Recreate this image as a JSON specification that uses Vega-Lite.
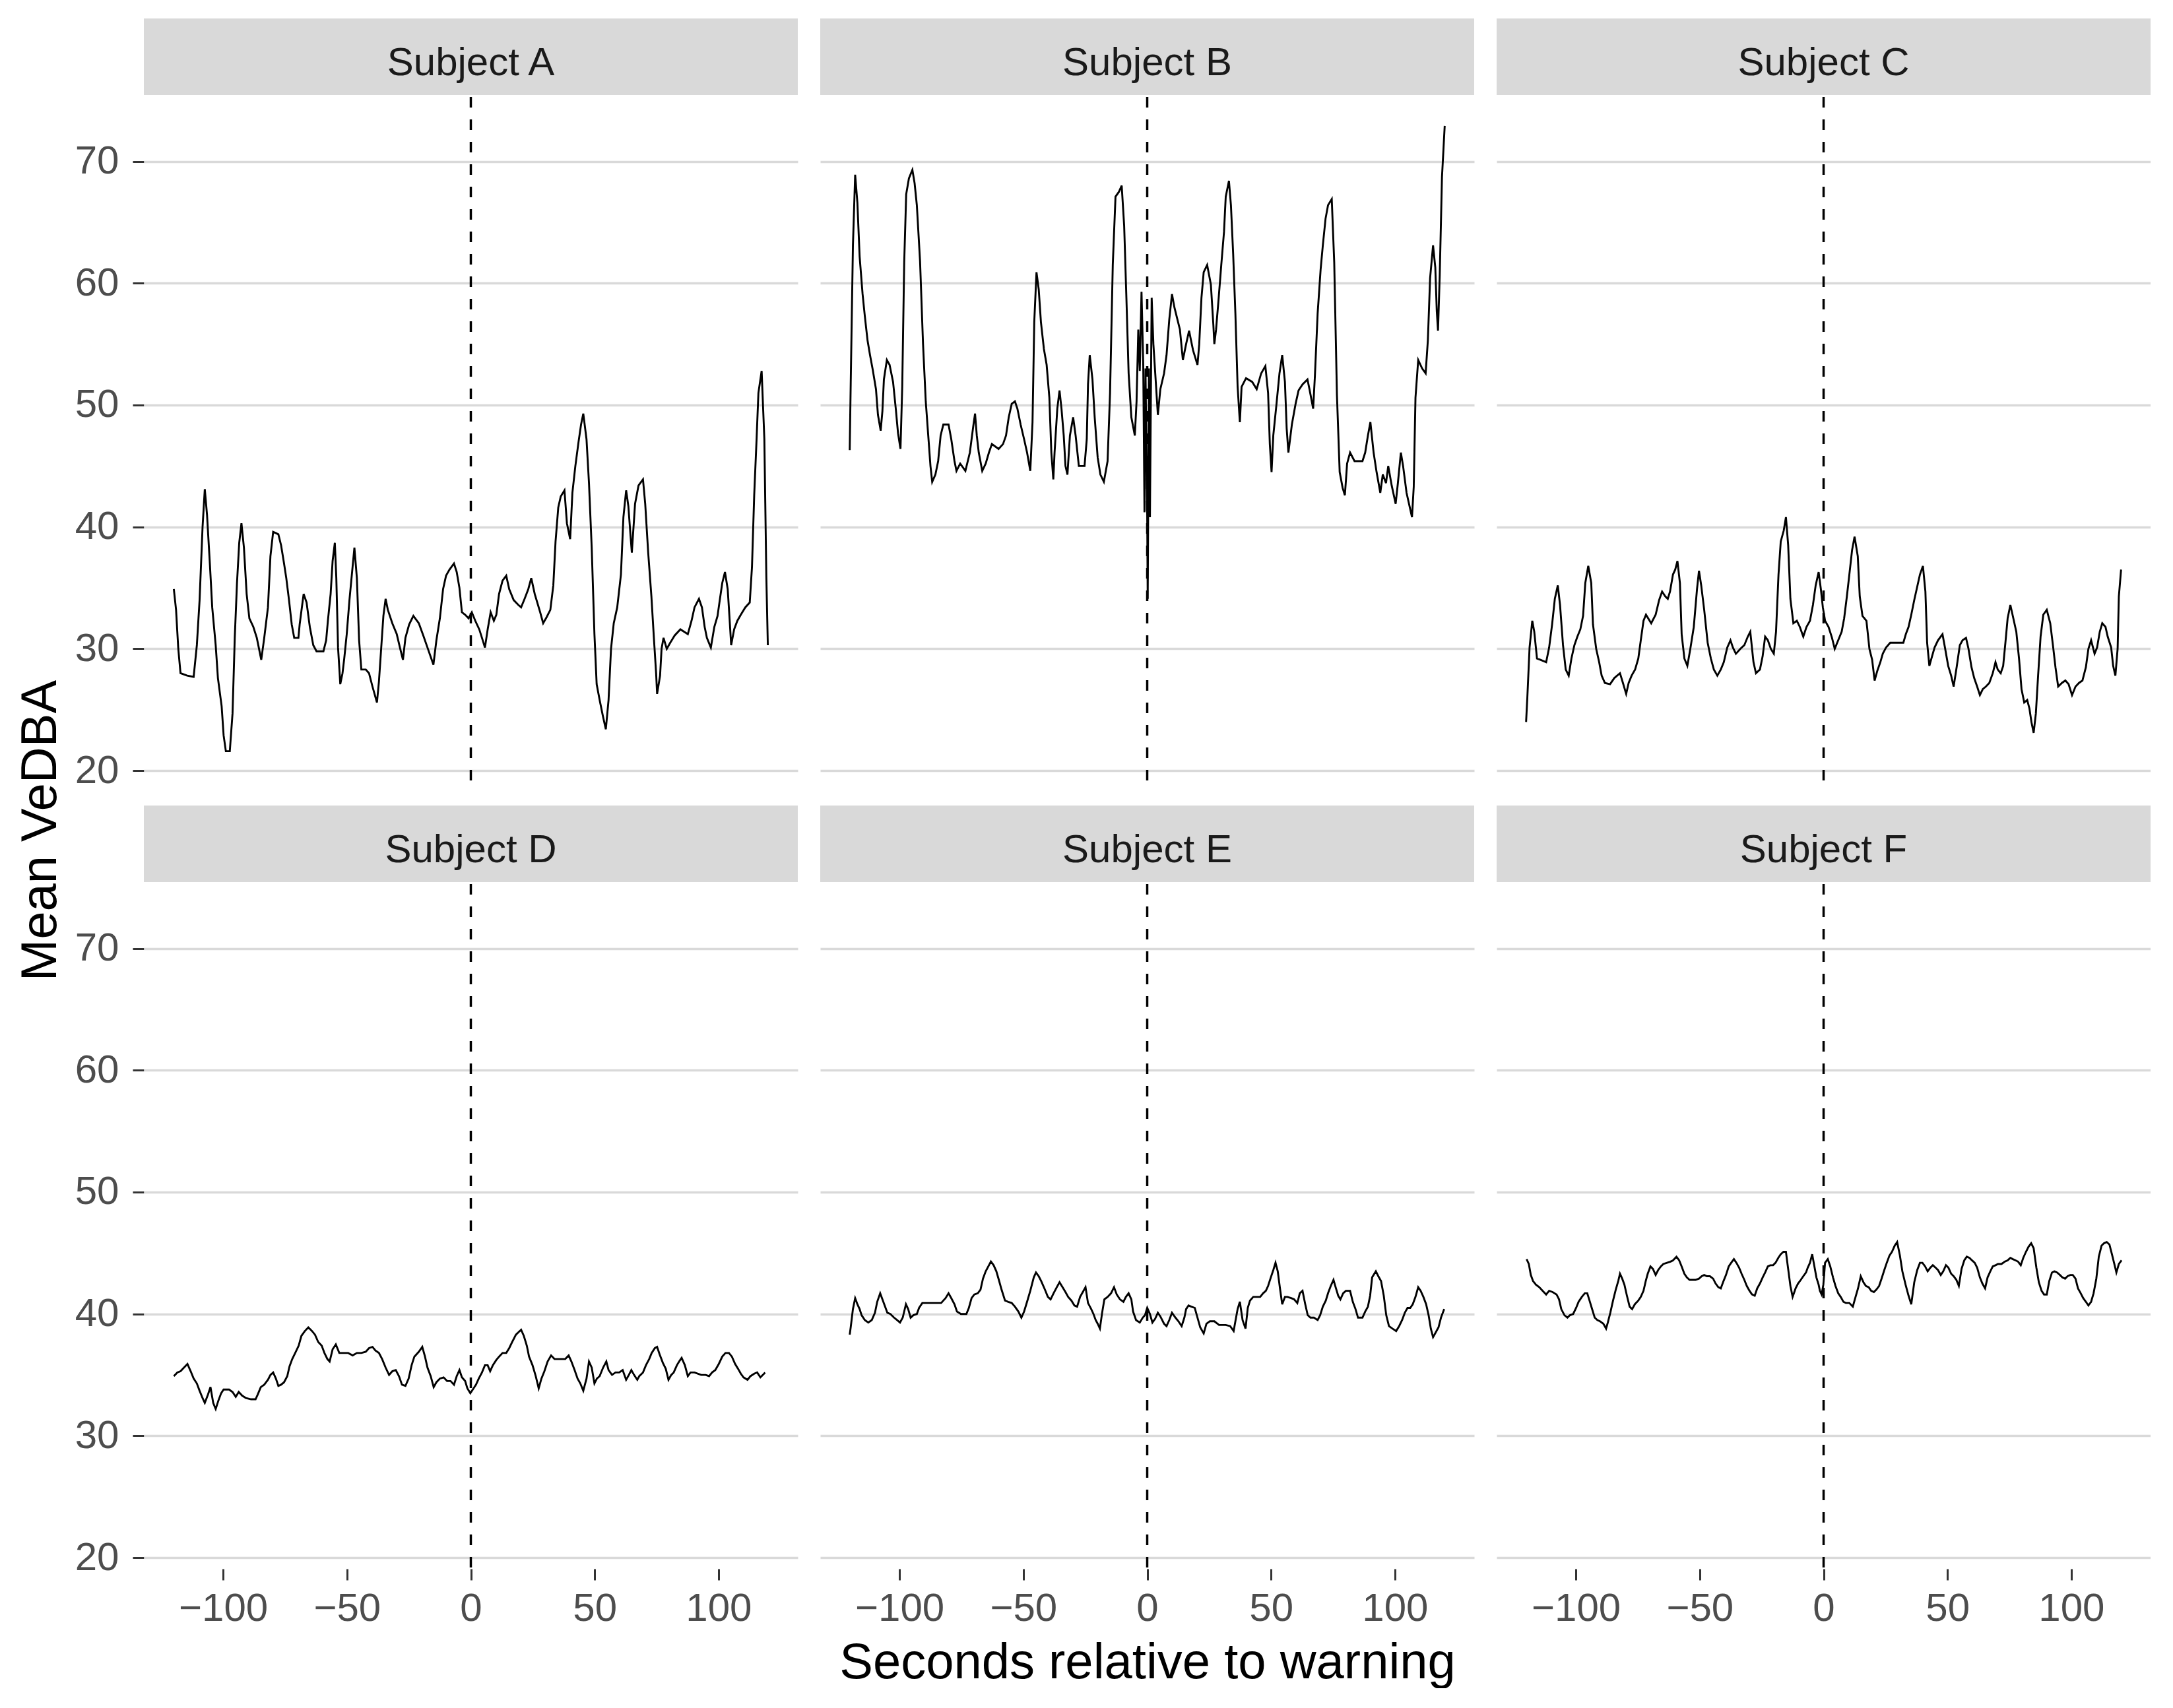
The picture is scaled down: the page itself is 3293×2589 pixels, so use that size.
{
  "$schema": "https://vega.github.io/schema/vega-lite/v6.json",
  "background": "white",
  "padding": {"left": 24, "top": 27, "right": 0, "bottom": 0},
  "title": {
    "text": "Mean VeDBA",
    "orient": "left",
    "anchor": "middle",
    "font": "Liberation Sans",
    "fontSize": 76,
    "fontWeight": "normal",
    "color": "black",
    "offset": 12,
    "dx": 34
  },
  "data": {
    "values": [
      {"s":"Subject A","t":-119.9,"v":34.9},{"s":"Subject A","t":-119.0,"v":33.2},{"s":"Subject A","t":-118.1,"v":30.0},{"s":"Subject A","t":-117.2,"v":28.0},{"s":"Subject A","t":-114.5,"v":27.8},{"s":"Subject A","t":-111.9,"v":27.7},{"s":"Subject A","t":-110.6,"v":30.3},{"s":"Subject A","t":-109.5,"v":34.0},{"s":"Subject A","t":-108.3,"v":40.0},{"s":"Subject A","t":-107.4,"v":43.1},{"s":"Subject A","t":-106.5,"v":41.0},{"s":"Subject A","t":-105.3,"v":36.8},{"s":"Subject A","t":-104.4,"v":33.4},{"s":"Subject A","t":-103.0,"v":30.3},{"s":"Subject A","t":-102.1,"v":27.6},{"s":"Subject A","t":-100.6,"v":25.3},{"s":"Subject A","t":-99.8,"v":22.9},{"s":"Subject A","t":-98.9,"v":21.6},{"s":"Subject A","t":-97.3,"v":21.6},{"s":"Subject A","t":-96.2,"v":24.7},{"s":"Subject A","t":-95.3,"v":30.9},{"s":"Subject A","t":-94.4,"v":35.4},{"s":"Subject A","t":-93.5,"v":38.7},{"s":"Subject A","t":-92.6,"v":40.3},{"s":"Subject A","t":-91.6,"v":38.3},{"s":"Subject A","t":-90.5,"v":34.5},{"s":"Subject A","t":-89.4,"v":32.5},{"s":"Subject A","t":-87.8,"v":31.8},{"s":"Subject A","t":-86.4,"v":30.9},{"s":"Subject A","t":-84.6,"v":29.1},{"s":"Subject A","t":-83.4,"v":30.9},{"s":"Subject A","t":-81.9,"v":33.4},{"s":"Subject A","t":-80.9,"v":37.6},{"s":"Subject A","t":-79.8,"v":39.6},{"s":"Subject A","t":-77.7,"v":39.4},{"s":"Subject A","t":-76.6,"v":38.5},{"s":"Subject A","t":-75.4,"v":37.0},{"s":"Subject A","t":-74.5,"v":35.8},{"s":"Subject A","t":-73.4,"v":34.0},{"s":"Subject A","t":-72.3,"v":32.0},{"s":"Subject A","t":-71.3,"v":30.9},{"s":"Subject A","t":-69.6,"v":30.9},{"s":"Subject A","t":-69.1,"v":32.0},{"s":"Subject A","t":-67.5,"v":34.5},{"s":"Subject A","t":-66.3,"v":33.8},{"s":"Subject A","t":-65.0,"v":31.8},{"s":"Subject A","t":-63.6,"v":30.3},{"s":"Subject A","t":-62.3,"v":29.8},{"s":"Subject A","t":-59.5,"v":29.8},{"s":"Subject A","t":-58.4,"v":30.7},{"s":"Subject A","t":-57.7,"v":32.3},{"s":"Subject A","t":-56.6,"v":34.5},{"s":"Subject A","t":-55.8,"v":37.2},{"s":"Subject A","t":-54.9,"v":38.7},{"s":"Subject A","t":-54.3,"v":35.8},{"s":"Subject A","t":-53.6,"v":30.1},{"s":"Subject A","t":-52.7,"v":27.1},{"s":"Subject A","t":-51.8,"v":28.0},{"s":"Subject A","t":-51.1,"v":29.2},{"s":"Subject A","t":-50.1,"v":31.2},{"s":"Subject A","t":-49.0,"v":34.0},{"s":"Subject A","t":-47.7,"v":36.8},{"s":"Subject A","t":-47.0,"v":38.3},{"s":"Subject A","t":-46.0,"v":35.8},{"s":"Subject A","t":-45.1,"v":30.7},{"s":"Subject A","t":-44.2,"v":28.3},{"s":"Subject A","t":-42.4,"v":28.3},{"s":"Subject A","t":-41.1,"v":28.0},{"s":"Subject A","t":-39.7,"v":26.9},{"s":"Subject A","t":-37.9,"v":25.6},{"s":"Subject A","t":-37.1,"v":27.3},{"s":"Subject A","t":-36.2,"v":30.0},{"s":"Subject A","t":-35.3,"v":32.7},{"s":"Subject A","t":-34.4,"v":34.1},{"s":"Subject A","t":-33.5,"v":33.2},{"s":"Subject A","t":-31.7,"v":32.1},{"s":"Subject A","t":-29.9,"v":31.2},{"s":"Subject A","t":-28.5,"v":30.0},{"s":"Subject A","t":-27.4,"v":29.1},{"s":"Subject A","t":-26.4,"v":30.9},{"s":"Subject A","t":-24.9,"v":32.0},{"s":"Subject A","t":-23.2,"v":32.7},{"s":"Subject A","t":-21.0,"v":32.1},{"s":"Subject A","t":-19.2,"v":31.1},{"s":"Subject A","t":-17.5,"v":30.1},{"s":"Subject A","t":-15.1,"v":28.7},{"s":"Subject A","t":-13.9,"v":30.7},{"s":"Subject A","t":-12.5,"v":32.5},{"s":"Subject A","t":-11.2,"v":34.9},{"s":"Subject A","t":-10.0,"v":36.0},{"s":"Subject A","t":-8.6,"v":36.5},{"s":"Subject A","t":-6.8,"v":37.0},{"s":"Subject A","t":-5.7,"v":36.3},{"s":"Subject A","t":-4.6,"v":35.0},{"s":"Subject A","t":-3.6,"v":33.0},{"s":"Subject A","t":-2.3,"v":32.8},{"s":"Subject A","t":-0.9,"v":32.5},{"s":"Subject A","t":0.4,"v":33.0},{"s":"Subject A","t":1.8,"v":32.3},{"s":"Subject A","t":3.4,"v":31.6},{"s":"Subject A","t":4.5,"v":30.9},{"s":"Subject A","t":5.7,"v":30.1},{"s":"Subject A","t":6.8,"v":31.6},{"s":"Subject A","t":8.0,"v":33.0},{"s":"Subject A","t":9.3,"v":32.3},{"s":"Subject A","t":10.3,"v":32.8},{"s":"Subject A","t":11.4,"v":34.5},{"s":"Subject A","t":12.8,"v":35.6},{"s":"Subject A","t":14.3,"v":36.0},{"s":"Subject A","t":15.5,"v":34.9},{"s":"Subject A","t":17.3,"v":34.0},{"s":"Subject A","t":19.2,"v":33.6},{"s":"Subject A","t":20.3,"v":33.4},{"s":"Subject A","t":21.7,"v":34.1},{"s":"Subject A","t":23.2,"v":34.9},{"s":"Subject A","t":24.4,"v":35.8},{"s":"Subject A","t":25.8,"v":34.5},{"s":"Subject A","t":28.0,"v":33.0},{"s":"Subject A","t":29.2,"v":32.1},{"s":"Subject A","t":30.6,"v":32.6},{"s":"Subject A","t":32.1,"v":33.2},{"s":"Subject A","t":33.3,"v":35.2},{"s":"Subject A","t":34.2,"v":38.8},{"s":"Subject A","t":35.3,"v":41.6},{"s":"Subject A","t":36.3,"v":42.5},{"s":"Subject A","t":37.8,"v":43.0},{"s":"Subject A","t":38.8,"v":40.3},{"s":"Subject A","t":40.1,"v":39.0},{"s":"Subject A","t":41.0,"v":42.8},{"s":"Subject A","t":42.2,"v":45.0},{"s":"Subject A","t":43.5,"v":47.0},{"s":"Subject A","t":44.5,"v":48.4},{"s":"Subject A","t":45.4,"v":49.3},{"s":"Subject A","t":46.7,"v":47.2},{"s":"Subject A","t":47.7,"v":43.6},{"s":"Subject A","t":48.8,"v":38.3},{"s":"Subject A","t":49.9,"v":31.2},{"s":"Subject A","t":50.8,"v":27.1},{"s":"Subject A","t":52.0,"v":25.8},{"s":"Subject A","t":53.3,"v":24.5},{"s":"Subject A","t":54.5,"v":23.4},{"s":"Subject A","t":55.6,"v":25.8},{"s":"Subject A","t":56.6,"v":30.0},{"s":"Subject A","t":57.7,"v":32.1},{"s":"Subject A","t":59.1,"v":33.4},{"s":"Subject A","t":60.6,"v":36.1},{"s":"Subject A","t":61.6,"v":40.8},{"s":"Subject A","t":62.7,"v":43.0},{"s":"Subject A","t":63.6,"v":41.7},{"s":"Subject A","t":64.5,"v":39.2},{"s":"Subject A","t":65.0,"v":37.9},{"s":"Subject A","t":66.3,"v":41.9},{"s":"Subject A","t":67.7,"v":43.4},{"s":"Subject A","t":69.5,"v":43.9},{"s":"Subject A","t":70.4,"v":41.9},{"s":"Subject A","t":71.6,"v":37.9},{"s":"Subject A","t":72.9,"v":34.3},{"s":"Subject A","t":73.9,"v":30.9},{"s":"Subject A","t":74.8,"v":28.0},{"s":"Subject A","t":75.2,"v":26.3},{"s":"Subject A","t":76.4,"v":27.8},{"s":"Subject A","t":77.0,"v":30.0},{"s":"Subject A","t":77.8,"v":30.9},{"s":"Subject A","t":79.1,"v":30.0},{"s":"Subject A","t":80.5,"v":30.5},{"s":"Subject A","t":82.3,"v":31.1},{"s":"Subject A","t":84.6,"v":31.6},{"s":"Subject A","t":87.6,"v":31.2},{"s":"Subject A","t":89.1,"v":32.3},{"s":"Subject A","t":90.3,"v":33.4},{"s":"Subject A","t":92.1,"v":34.1},{"s":"Subject A","t":93.3,"v":33.4},{"s":"Subject A","t":94.4,"v":31.8},{"s":"Subject A","t":95.3,"v":30.9},{"s":"Subject A","t":96.9,"v":30.1},{"s":"Subject A","t":98.3,"v":31.8},{"s":"Subject A","t":99.6,"v":32.7},{"s":"Subject A","t":100.5,"v":34.0},{"s":"Subject A","t":101.5,"v":35.4},{"s":"Subject A","t":102.6,"v":36.3},{"s":"Subject A","t":103.7,"v":34.9},{"s":"Subject A","t":104.6,"v":32.0},{"s":"Subject A","t":105.1,"v":30.3},{"s":"Subject A","t":106.3,"v":31.6},{"s":"Subject A","t":107.6,"v":32.3},{"s":"Subject A","t":109.0,"v":32.8},{"s":"Subject A","t":110.8,"v":33.4},{"s":"Subject A","t":112.6,"v":33.8},{"s":"Subject A","t":113.5,"v":36.7},{"s":"Subject A","t":114.4,"v":42.6},{"s":"Subject A","t":115.4,"v":47.4},{"s":"Subject A","t":116.1,"v":51.0},{"s":"Subject A","t":117.4,"v":52.8},{"s":"Subject A","t":118.5,"v":47.2},{"s":"Subject A","t":119.3,"v":35.9},{"s":"Subject A","t":119.9,"v":30.3},
      {"s":"Subject B","t":-120.1,"v":46.3},{"s":"Subject B","t":-119.7,"v":51.7},{"s":"Subject B","t":-118.8,"v":63.1},{"s":"Subject B","t":-117.9,"v":68.9},{"s":"Subject B","t":-117.0,"v":66.6},{"s":"Subject B","t":-116.1,"v":62.2},{"s":"Subject B","t":-114.9,"v":59.1},{"s":"Subject B","t":-114.0,"v":57.3},{"s":"Subject B","t":-112.9,"v":55.3},{"s":"Subject B","t":-111.9,"v":54.1},{"s":"Subject B","t":-110.8,"v":52.9},{"s":"Subject B","t":-109.5,"v":51.3},{"s":"Subject B","t":-108.7,"v":49.2},{"s":"Subject B","t":-107.6,"v":47.9},{"s":"Subject B","t":-106.9,"v":49.5},{"s":"Subject B","t":-106.3,"v":52.1},{"s":"Subject B","t":-105.1,"v":53.7},{"s":"Subject B","t":-104.0,"v":53.3},{"s":"Subject B","t":-102.6,"v":51.9},{"s":"Subject B","t":-101.5,"v":49.7},{"s":"Subject B","t":-100.6,"v":47.7},{"s":"Subject B","t":-99.6,"v":46.4},{"s":"Subject B","t":-98.9,"v":51.5},{"s":"Subject B","t":-98.1,"v":61.7},{"s":"Subject B","t":-97.3,"v":67.3},{"s":"Subject B","t":-96.2,"v":68.6},{"s":"Subject B","t":-94.8,"v":69.3},{"s":"Subject B","t":-93.9,"v":68.2},{"s":"Subject B","t":-93.0,"v":66.4},{"s":"Subject B","t":-91.7,"v":61.8},{"s":"Subject B","t":-90.5,"v":55.0},{"s":"Subject B","t":-89.4,"v":50.3},{"s":"Subject B","t":-88.4,"v":47.5},{"s":"Subject B","t":-87.5,"v":45.0},{"s":"Subject B","t":-86.8,"v":43.7},{"s":"Subject B","t":-85.5,"v":44.3},{"s":"Subject B","t":-84.4,"v":45.4},{"s":"Subject B","t":-83.4,"v":47.5},{"s":"Subject B","t":-82.3,"v":48.4},{"s":"Subject B","t":-80.2,"v":48.4},{"s":"Subject B","t":-79.1,"v":47.2},{"s":"Subject B","t":-77.8,"v":45.4},{"s":"Subject B","t":-77.0,"v":44.6},{"s":"Subject B","t":-75.5,"v":45.2},{"s":"Subject B","t":-73.4,"v":44.6},{"s":"Subject B","t":-71.6,"v":46.1},{"s":"Subject B","t":-70.2,"v":48.3},{"s":"Subject B","t":-69.5,"v":49.3},{"s":"Subject B","t":-68.8,"v":47.5},{"s":"Subject B","t":-68.0,"v":46.1},{"s":"Subject B","t":-66.6,"v":44.6},{"s":"Subject B","t":-65.2,"v":45.2},{"s":"Subject B","t":-63.9,"v":46.1},{"s":"Subject B","t":-62.7,"v":46.8},{"s":"Subject B","t":-60.0,"v":46.4},{"s":"Subject B","t":-58.2,"v":46.8},{"s":"Subject B","t":-57.0,"v":47.5},{"s":"Subject B","t":-55.9,"v":49.0},{"s":"Subject B","t":-54.7,"v":50.1},{"s":"Subject B","t":-53.4,"v":50.3},{"s":"Subject B","t":-52.4,"v":49.7},{"s":"Subject B","t":-51.1,"v":48.4},{"s":"Subject B","t":-49.7,"v":47.2},{"s":"Subject B","t":-48.5,"v":46.1},{"s":"Subject B","t":-47.2,"v":44.6},{"s":"Subject B","t":-46.3,"v":48.6},{"s":"Subject B","t":-45.6,"v":56.8},{"s":"Subject B","t":-44.7,"v":60.9},{"s":"Subject B","t":-43.8,"v":59.5},{"s":"Subject B","t":-42.9,"v":56.8},{"s":"Subject B","t":-41.7,"v":54.6},{"s":"Subject B","t":-40.6,"v":53.3},{"s":"Subject B","t":-39.5,"v":50.6},{"s":"Subject B","t":-38.7,"v":46.1},{"s":"Subject B","t":-37.9,"v":43.9},{"s":"Subject B","t":-37.4,"v":46.1},{"s":"Subject B","t":-36.3,"v":49.7},{"s":"Subject B","t":-35.4,"v":51.2},{"s":"Subject B","t":-34.6,"v":49.7},{"s":"Subject B","t":-33.7,"v":47.5},{"s":"Subject B","t":-33.0,"v":45.0},{"s":"Subject B","t":-32.2,"v":44.3},{"s":"Subject B","t":-31.2,"v":47.5},{"s":"Subject B","t":-29.9,"v":49.0},{"s":"Subject B","t":-28.9,"v":47.5},{"s":"Subject B","t":-27.6,"v":45.0},{"s":"Subject B","t":-25.3,"v":45.0},{"s":"Subject B","t":-24.4,"v":47.2},{"s":"Subject B","t":-23.9,"v":51.7},{"s":"Subject B","t":-23.2,"v":54.1},{"s":"Subject B","t":-22.1,"v":52.1},{"s":"Subject B","t":-21.2,"v":49.0},{"s":"Subject B","t":-20.0,"v":45.7},{"s":"Subject B","t":-18.9,"v":44.3},{"s":"Subject B","t":-17.5,"v":43.7},{"s":"Subject B","t":-16.0,"v":45.4},{"s":"Subject B","t":-15.0,"v":51.0},{"s":"Subject B","t":-13.9,"v":61.5},{"s":"Subject B","t":-12.8,"v":67.1},{"s":"Subject B","t":-11.4,"v":67.5},{"s":"Subject B","t":-10.3,"v":68.0},{"s":"Subject B","t":-9.3,"v":64.7},{"s":"Subject B","t":-8.4,"v":58.8},{"s":"Subject B","t":-7.5,"v":52.6},{"s":"Subject B","t":-6.4,"v":49.0},{"s":"Subject B","t":-5.0,"v":47.5},{"s":"Subject B","t":-4.3,"v":50.3},{"s":"Subject B","t":-3.6,"v":56.2},{"s":"Subject B","t":-3.0,"v":52.8},{"s":"Subject B","t":-2.3,"v":59.3},{"s":"Subject B","t":-1.6,"v":53.3},{"s":"Subject B","t":-1.1,"v":41.2},{"s":"Subject B","t":-0.7,"v":53.0},{"s":"Subject B","t":0.0,"v":41.0},{"s":"Subject B","t":0.2,"v":34.1},{"s":"Subject B","t":0.7,"v":53.0},{"s":"Subject B","t":1.1,"v":40.8},{"s":"Subject B","t":1.8,"v":58.8},{"s":"Subject B","t":2.5,"v":55.0},{"s":"Subject B","t":4.3,"v":49.2},{"s":"Subject B","t":5.3,"v":51.3},{"s":"Subject B","t":6.8,"v":52.6},{"s":"Subject B","t":7.8,"v":54.1},{"s":"Subject B","t":8.9,"v":57.0},{"s":"Subject B","t":10.0,"v":59.1},{"s":"Subject B","t":11.0,"v":58.0},{"s":"Subject B","t":13.2,"v":56.2},{"s":"Subject B","t":14.4,"v":53.7},{"s":"Subject B","t":15.7,"v":55.0},{"s":"Subject B","t":16.9,"v":56.1},{"s":"Subject B","t":18.5,"v":54.5},{"s":"Subject B","t":20.3,"v":53.3},{"s":"Subject B","t":21.0,"v":55.0},{"s":"Subject B","t":21.9,"v":58.8},{"s":"Subject B","t":22.8,"v":60.9},{"s":"Subject B","t":24.2,"v":61.5},{"s":"Subject B","t":25.7,"v":59.9},{"s":"Subject B","t":26.7,"v":56.6},{"s":"Subject B","t":27.1,"v":55.0},{"s":"Subject B","t":27.8,"v":56.2},{"s":"Subject B","t":28.9,"v":58.9},{"s":"Subject B","t":29.9,"v":61.5},{"s":"Subject B","t":31.0,"v":64.2},{"s":"Subject B","t":31.7,"v":67.1},{"s":"Subject B","t":33.0,"v":68.4},{"s":"Subject B","t":33.8,"v":66.4},{"s":"Subject B","t":34.7,"v":62.4},{"s":"Subject B","t":35.6,"v":57.5},{"s":"Subject B","t":36.5,"v":51.5},{"s":"Subject B","t":37.4,"v":48.6},{"s":"Subject B","t":38.1,"v":51.5},{"s":"Subject B","t":39.9,"v":52.2},{"s":"Subject B","t":42.4,"v":51.9},{"s":"Subject B","t":44.2,"v":51.3},{"s":"Subject B","t":46.0,"v":52.6},{"s":"Subject B","t":47.7,"v":53.2},{"s":"Subject B","t":48.8,"v":51.0},{"s":"Subject B","t":49.5,"v":46.8},{"s":"Subject B","t":50.2,"v":44.5},{"s":"Subject B","t":50.9,"v":47.5},{"s":"Subject B","t":52.2,"v":50.1},{"s":"Subject B","t":53.4,"v":52.6},{"s":"Subject B","t":54.5,"v":54.1},{"s":"Subject B","t":55.6,"v":51.9},{"s":"Subject B","t":56.3,"v":48.1},{"s":"Subject B","t":57.0,"v":46.1},{"s":"Subject B","t":58.4,"v":48.4},{"s":"Subject B","t":59.9,"v":50.1},{"s":"Subject B","t":61.1,"v":51.2},{"s":"Subject B","t":62.7,"v":51.7},{"s":"Subject B","t":64.7,"v":52.1},{"s":"Subject B","t":65.6,"v":51.2},{"s":"Subject B","t":67.0,"v":49.7},{"s":"Subject B","t":67.7,"v":52.4},{"s":"Subject B","t":68.8,"v":57.5},{"s":"Subject B","t":70.0,"v":61.1},{"s":"Subject B","t":70.9,"v":63.1},{"s":"Subject B","t":72.0,"v":65.3},{"s":"Subject B","t":73.0,"v":66.4},{"s":"Subject B","t":74.5,"v":66.9},{"s":"Subject B","t":75.5,"v":61.7},{"s":"Subject B","t":76.6,"v":50.8},{"s":"Subject B","t":77.7,"v":44.5},{"s":"Subject B","t":78.9,"v":43.2},{"s":"Subject B","t":79.8,"v":42.6},{"s":"Subject B","t":80.7,"v":45.2},{"s":"Subject B","t":81.9,"v":46.1},{"s":"Subject B","t":83.7,"v":45.4},{"s":"Subject B","t":86.9,"v":45.4},{"s":"Subject B","t":88.0,"v":46.1},{"s":"Subject B","t":89.1,"v":47.5},{"s":"Subject B","t":90.1,"v":48.6},{"s":"Subject B","t":91.4,"v":46.1},{"s":"Subject B","t":92.6,"v":44.5},{"s":"Subject B","t":94.1,"v":42.8},{"s":"Subject B","t":95.1,"v":44.3},{"s":"Subject B","t":96.4,"v":43.6},{"s":"Subject B","t":97.3,"v":45.0},{"s":"Subject B","t":98.7,"v":43.4},{"s":"Subject B","t":100.3,"v":41.9},{"s":"Subject B","t":101.2,"v":43.6},{"s":"Subject B","t":102.4,"v":46.1},{"s":"Subject B","t":103.3,"v":45.0},{"s":"Subject B","t":104.7,"v":42.8},{"s":"Subject B","t":106.9,"v":40.8},{"s":"Subject B","t":107.6,"v":43.3},{"s":"Subject B","t":108.3,"v":50.6},{"s":"Subject B","t":109.4,"v":53.7},{"s":"Subject B","t":111.0,"v":53.0},{"s":"Subject B","t":112.4,"v":52.6},{"s":"Subject B","t":113.3,"v":55.3},{"s":"Subject B","t":114.2,"v":60.4},{"s":"Subject B","t":115.4,"v":63.1},{"s":"Subject B","t":116.3,"v":61.3},{"s":"Subject B","t":116.9,"v":57.7},{"s":"Subject B","t":117.4,"v":56.1},{"s":"Subject B","t":118.1,"v":60.7},{"s":"Subject B","t":119.0,"v":68.7},{"s":"Subject B","t":120.1,"v":72.9},
      {"s":"Subject C","t":-120.1,"v":24.0},{"s":"Subject C","t":-119.6,"v":26.0},{"s":"Subject C","t":-118.7,"v":30.1},{"s":"Subject C","t":-117.6,"v":32.3},{"s":"Subject C","t":-116.8,"v":31.4},{"s":"Subject C","t":-115.7,"v":29.2},{"s":"Subject C","t":-114.3,"v":29.1},{"s":"Subject C","t":-112.0,"v":28.9},{"s":"Subject C","t":-110.8,"v":30.1},{"s":"Subject C","t":-109.6,"v":32.0},{"s":"Subject C","t":-108.5,"v":34.1},{"s":"Subject C","t":-107.3,"v":35.2},{"s":"Subject C","t":-106.4,"v":33.6},{"s":"Subject C","t":-105.2,"v":30.3},{"s":"Subject C","t":-104.1,"v":28.3},{"s":"Subject C","t":-102.9,"v":27.8},{"s":"Subject C","t":-101.8,"v":29.2},{"s":"Subject C","t":-100.6,"v":30.3},{"s":"Subject C","t":-99.4,"v":31.0},{"s":"Subject C","t":-98.2,"v":31.6},{"s":"Subject C","t":-97.1,"v":32.7},{"s":"Subject C","t":-96.2,"v":35.4},{"s":"Subject C","t":-95.0,"v":36.8},{"s":"Subject C","t":-93.8,"v":35.4},{"s":"Subject C","t":-93.1,"v":32.0},{"s":"Subject C","t":-91.8,"v":30.0},{"s":"Subject C","t":-90.6,"v":28.9},{"s":"Subject C","t":-89.6,"v":27.8},{"s":"Subject C","t":-88.3,"v":27.2},{"s":"Subject C","t":-86.2,"v":27.1},{"s":"Subject C","t":-84.5,"v":27.6},{"s":"Subject C","t":-82.2,"v":28.0},{"s":"Subject C","t":-81.0,"v":27.2},{"s":"Subject C","t":-79.7,"v":26.3},{"s":"Subject C","t":-78.7,"v":27.2},{"s":"Subject C","t":-77.5,"v":27.8},{"s":"Subject C","t":-76.1,"v":28.3},{"s":"Subject C","t":-74.8,"v":29.2},{"s":"Subject C","t":-73.8,"v":30.7},{"s":"Subject C","t":-72.7,"v":32.3},{"s":"Subject C","t":-71.7,"v":32.8},{"s":"Subject C","t":-69.6,"v":32.1},{"s":"Subject C","t":-67.8,"v":32.8},{"s":"Subject C","t":-66.4,"v":34.0},{"s":"Subject C","t":-65.2,"v":34.7},{"s":"Subject C","t":-63.9,"v":34.3},{"s":"Subject C","t":-62.9,"v":34.1},{"s":"Subject C","t":-62.0,"v":34.7},{"s":"Subject C","t":-60.8,"v":36.1},{"s":"Subject C","t":-59.9,"v":36.5},{"s":"Subject C","t":-59.0,"v":37.2},{"s":"Subject C","t":-58.0,"v":35.4},{"s":"Subject C","t":-57.3,"v":31.2},{"s":"Subject C","t":-56.2,"v":29.2},{"s":"Subject C","t":-55.0,"v":28.6},{"s":"Subject C","t":-53.8,"v":30.0},{"s":"Subject C","t":-52.4,"v":31.8},{"s":"Subject C","t":-51.1,"v":34.9},{"s":"Subject C","t":-50.3,"v":36.4},{"s":"Subject C","t":-49.4,"v":35.2},{"s":"Subject C","t":-48.2,"v":33.2},{"s":"Subject C","t":-46.8,"v":30.5},{"s":"Subject C","t":-45.5,"v":29.2},{"s":"Subject C","t":-44.3,"v":28.3},{"s":"Subject C","t":-42.9,"v":27.8},{"s":"Subject C","t":-41.5,"v":28.3},{"s":"Subject C","t":-40.3,"v":28.9},{"s":"Subject C","t":-38.9,"v":30.1},{"s":"Subject C","t":-37.6,"v":30.7},{"s":"Subject C","t":-36.6,"v":30.1},{"s":"Subject C","t":-35.4,"v":29.6},{"s":"Subject C","t":-33.6,"v":30.0},{"s":"Subject C","t":-32.0,"v":30.3},{"s":"Subject C","t":-30.6,"v":31.0},{"s":"Subject C","t":-29.6,"v":31.4},{"s":"Subject C","t":-28.3,"v":28.9},{"s":"Subject C","t":-27.3,"v":28.0},{"s":"Subject C","t":-25.7,"v":28.3},{"s":"Subject C","t":-24.6,"v":29.4},{"s":"Subject C","t":-23.6,"v":31.0},{"s":"Subject C","t":-22.5,"v":30.7},{"s":"Subject C","t":-21.3,"v":30.0},{"s":"Subject C","t":-20.1,"v":29.6},{"s":"Subject C","t":-19.2,"v":31.4},{"s":"Subject C","t":-18.2,"v":36.1},{"s":"Subject C","t":-17.3,"v":38.8},{"s":"Subject C","t":-16.1,"v":39.7},{"s":"Subject C","t":-15.2,"v":40.8},{"s":"Subject C","t":-14.3,"v":38.5},{"s":"Subject C","t":-13.4,"v":34.1},{"s":"Subject C","t":-12.2,"v":32.1},{"s":"Subject C","t":-10.8,"v":32.3},{"s":"Subject C","t":-9.6,"v":31.8},{"s":"Subject C","t":-8.2,"v":31.0},{"s":"Subject C","t":-6.9,"v":31.8},{"s":"Subject C","t":-5.5,"v":32.3},{"s":"Subject C","t":-4.3,"v":33.6},{"s":"Subject C","t":-3.2,"v":35.2},{"s":"Subject C","t":-2.0,"v":36.3},{"s":"Subject C","t":-1.1,"v":34.9},{"s":"Subject C","t":-0.3,"v":33.4},{"s":"Subject C","t":0.6,"v":32.3},{"s":"Subject C","t":2.0,"v":31.8},{"s":"Subject C","t":3.4,"v":30.9},{"s":"Subject C","t":4.5,"v":30.0},{"s":"Subject C","t":5.9,"v":30.7},{"s":"Subject C","t":7.3,"v":31.4},{"s":"Subject C","t":8.3,"v":32.5},{"s":"Subject C","t":9.4,"v":34.3},{"s":"Subject C","t":10.4,"v":36.1},{"s":"Subject C","t":11.5,"v":38.1},{"s":"Subject C","t":12.5,"v":39.2},{"s":"Subject C","t":13.8,"v":37.6},{"s":"Subject C","t":14.6,"v":34.3},{"s":"Subject C","t":15.7,"v":32.7},{"s":"Subject C","t":17.3,"v":32.3},{"s":"Subject C","t":18.5,"v":30.0},{"s":"Subject C","t":19.6,"v":29.1},{"s":"Subject C","t":20.6,"v":27.4},{"s":"Subject C","t":21.7,"v":28.2},{"s":"Subject C","t":22.9,"v":28.9},{"s":"Subject C","t":23.9,"v":29.6},{"s":"Subject C","t":25.2,"v":30.1},{"s":"Subject C","t":26.9,"v":30.5},{"s":"Subject C","t":29.6,"v":30.5},{"s":"Subject C","t":32.2,"v":30.5},{"s":"Subject C","t":33.2,"v":31.2},{"s":"Subject C","t":34.3,"v":31.8},{"s":"Subject C","t":35.4,"v":32.8},{"s":"Subject C","t":36.6,"v":34.0},{"s":"Subject C","t":37.8,"v":35.1},{"s":"Subject C","t":38.9,"v":36.1},{"s":"Subject C","t":40.1,"v":36.8},{"s":"Subject C","t":41.1,"v":34.7},{"s":"Subject C","t":41.8,"v":30.5},{"s":"Subject C","t":42.7,"v":28.6},{"s":"Subject C","t":43.8,"v":29.4},{"s":"Subject C","t":44.8,"v":30.1},{"s":"Subject C","t":46.2,"v":30.7},{"s":"Subject C","t":48.0,"v":31.2},{"s":"Subject C","t":49.0,"v":30.1},{"s":"Subject C","t":50.3,"v":28.6},{"s":"Subject C","t":51.5,"v":27.8},{"s":"Subject C","t":52.5,"v":26.9},{"s":"Subject C","t":53.8,"v":28.6},{"s":"Subject C","t":55.0,"v":30.3},{"s":"Subject C","t":56.1,"v":30.7},{"s":"Subject C","t":57.5,"v":30.9},{"s":"Subject C","t":58.5,"v":30.0},{"s":"Subject C","t":59.7,"v":28.5},{"s":"Subject C","t":60.8,"v":27.6},{"s":"Subject C","t":62.0,"v":26.9},{"s":"Subject C","t":63.1,"v":26.2},{"s":"Subject C","t":64.3,"v":26.7},{"s":"Subject C","t":65.5,"v":26.9},{"s":"Subject C","t":66.9,"v":27.2},{"s":"Subject C","t":68.3,"v":28.0},{"s":"Subject C","t":69.4,"v":28.9},{"s":"Subject C","t":70.3,"v":28.3},{"s":"Subject C","t":71.5,"v":28.0},{"s":"Subject C","t":72.5,"v":28.6},{"s":"Subject C","t":73.4,"v":30.5},{"s":"Subject C","t":74.3,"v":32.5},{"s":"Subject C","t":75.4,"v":33.6},{"s":"Subject C","t":76.6,"v":32.5},{"s":"Subject C","t":77.8,"v":31.4},{"s":"Subject C","t":78.9,"v":29.2},{"s":"Subject C","t":79.9,"v":26.7},{"s":"Subject C","t":81.0,"v":25.6},{"s":"Subject C","t":82.2,"v":25.8},{"s":"Subject C","t":83.1,"v":25.1},{"s":"Subject C","t":83.9,"v":24.0},{"s":"Subject C","t":84.8,"v":23.1},{"s":"Subject C","t":85.7,"v":24.7},{"s":"Subject C","t":86.6,"v":27.8},{"s":"Subject C","t":87.6,"v":31.0},{"s":"Subject C","t":88.7,"v":32.8},{"s":"Subject C","t":90.1,"v":33.2},{"s":"Subject C","t":91.5,"v":32.1},{"s":"Subject C","t":92.7,"v":30.1},{"s":"Subject C","t":93.6,"v":28.5},{"s":"Subject C","t":94.7,"v":26.9},{"s":"Subject C","t":96.2,"v":27.2},{"s":"Subject C","t":97.6,"v":27.4},{"s":"Subject C","t":98.9,"v":27.1},{"s":"Subject C","t":100.3,"v":26.2},{"s":"Subject C","t":101.7,"v":26.9},{"s":"Subject C","t":103.1,"v":27.2},{"s":"Subject C","t":104.5,"v":27.4},{"s":"Subject C","t":105.9,"v":28.5},{"s":"Subject C","t":106.9,"v":30.0},{"s":"Subject C","t":108.0,"v":30.7},{"s":"Subject C","t":109.4,"v":29.6},{"s":"Subject C","t":110.4,"v":30.1},{"s":"Subject C","t":111.5,"v":31.4},{"s":"Subject C","t":112.5,"v":32.1},{"s":"Subject C","t":113.8,"v":31.8},{"s":"Subject C","t":114.7,"v":31.0},{"s":"Subject C","t":116.1,"v":30.1},{"s":"Subject C","t":116.9,"v":28.6},{"s":"Subject C","t":117.8,"v":27.8},{"s":"Subject C","t":118.7,"v":30.0},{"s":"Subject C","t":119.2,"v":34.3},{"s":"Subject C","t":120.1,"v":36.5},
      {"s":"Subject D","t":-119.9,"v":34.9},{"s":"Subject D","t":-118.5,"v":35.2},{"s":"Subject D","t":-117.2,"v":35.3},{"s":"Subject D","t":-115.8,"v":35.6},{"s":"Subject D","t":-114.4,"v":35.9},{"s":"Subject D","t":-113.1,"v":35.3},{"s":"Subject D","t":-111.9,"v":34.7},{"s":"Subject D","t":-110.6,"v":34.3},{"s":"Subject D","t":-109.5,"v":33.7},{"s":"Subject D","t":-108.3,"v":33.1},{"s":"Subject D","t":-107.4,"v":32.7},{"s":"Subject D","t":-106.1,"v":33.4},{"s":"Subject D","t":-105.1,"v":34.0},{"s":"Subject D","t":-104.0,"v":32.7},{"s":"Subject D","t":-103.0,"v":32.2},{"s":"Subject D","t":-101.9,"v":32.9},{"s":"Subject D","t":-100.8,"v":33.5},{"s":"Subject D","t":-99.8,"v":33.8},{"s":"Subject D","t":-97.6,"v":33.8},{"s":"Subject D","t":-96.2,"v":33.6},{"s":"Subject D","t":-94.9,"v":33.2},{"s":"Subject D","t":-93.7,"v":33.6},{"s":"Subject D","t":-92.3,"v":33.3},{"s":"Subject D","t":-90.8,"v":33.1},{"s":"Subject D","t":-88.7,"v":33.0},{"s":"Subject D","t":-86.9,"v":33.0},{"s":"Subject D","t":-86.0,"v":33.4},{"s":"Subject D","t":-84.8,"v":34.0},{"s":"Subject D","t":-83.4,"v":34.2},{"s":"Subject D","t":-81.9,"v":34.6},{"s":"Subject D","t":-80.9,"v":35.0},{"s":"Subject D","t":-79.8,"v":35.2},{"s":"Subject D","t":-78.7,"v":34.7},{"s":"Subject D","t":-77.7,"v":34.1},{"s":"Subject D","t":-76.6,"v":34.2},{"s":"Subject D","t":-75.4,"v":34.4},{"s":"Subject D","t":-74.1,"v":34.9},{"s":"Subject D","t":-73.2,"v":35.7},{"s":"Subject D","t":-72.1,"v":36.3},{"s":"Subject D","t":-70.9,"v":36.8},{"s":"Subject D","t":-69.5,"v":37.4},{"s":"Subject D","t":-68.4,"v":38.2},{"s":"Subject D","t":-67.0,"v":38.6},{"s":"Subject D","t":-65.6,"v":38.9},{"s":"Subject D","t":-64.1,"v":38.6},{"s":"Subject D","t":-62.9,"v":38.3},{"s":"Subject D","t":-61.6,"v":37.7},{"s":"Subject D","t":-60.2,"v":37.4},{"s":"Subject D","t":-59.1,"v":36.8},{"s":"Subject D","t":-57.9,"v":36.3},{"s":"Subject D","t":-57.0,"v":36.1},{"s":"Subject D","t":-55.8,"v":37.1},{"s":"Subject D","t":-54.5,"v":37.5},{"s":"Subject D","t":-53.1,"v":36.8},{"s":"Subject D","t":-51.3,"v":36.8},{"s":"Subject D","t":-49.5,"v":36.8},{"s":"Subject D","t":-47.7,"v":36.6},{"s":"Subject D","t":-46.0,"v":36.8},{"s":"Subject D","t":-44.2,"v":36.8},{"s":"Subject D","t":-42.4,"v":36.9},{"s":"Subject D","t":-41.1,"v":37.2},{"s":"Subject D","t":-39.7,"v":37.3},{"s":"Subject D","t":-38.5,"v":37.0},{"s":"Subject D","t":-37.1,"v":36.8},{"s":"Subject D","t":-35.8,"v":36.3},{"s":"Subject D","t":-34.4,"v":35.6},{"s":"Subject D","t":-33.0,"v":35.0},{"s":"Subject D","t":-31.7,"v":35.3},{"s":"Subject D","t":-30.3,"v":35.4},{"s":"Subject D","t":-29.0,"v":34.9},{"s":"Subject D","t":-27.8,"v":34.2},{"s":"Subject D","t":-26.4,"v":34.1},{"s":"Subject D","t":-25.1,"v":34.7},{"s":"Subject D","t":-23.9,"v":35.8},{"s":"Subject D","t":-22.8,"v":36.5},{"s":"Subject D","t":-21.0,"v":36.9},{"s":"Subject D","t":-19.6,"v":37.3},{"s":"Subject D","t":-18.5,"v":36.5},{"s":"Subject D","t":-17.5,"v":35.6},{"s":"Subject D","t":-16.2,"v":34.9},{"s":"Subject D","t":-15.0,"v":34.0},{"s":"Subject D","t":-13.9,"v":34.4},{"s":"Subject D","t":-12.5,"v":34.7},{"s":"Subject D","t":-11.0,"v":34.8},{"s":"Subject D","t":-9.6,"v":34.5},{"s":"Subject D","t":-8.2,"v":34.5},{"s":"Subject D","t":-6.8,"v":34.2},{"s":"Subject D","t":-5.7,"v":34.9},{"s":"Subject D","t":-4.6,"v":35.4},{"s":"Subject D","t":-3.6,"v":34.8},{"s":"Subject D","t":-2.3,"v":34.5},{"s":"Subject D","t":-1.4,"v":33.9},{"s":"Subject D","t":-0.2,"v":33.5},{"s":"Subject D","t":1.1,"v":33.9},{"s":"Subject D","t":2.1,"v":34.2},{"s":"Subject D","t":3.2,"v":34.7},{"s":"Subject D","t":4.5,"v":35.2},{"s":"Subject D","t":5.7,"v":35.8},{"s":"Subject D","t":6.8,"v":35.8},{"s":"Subject D","t":7.8,"v":35.3},{"s":"Subject D","t":8.9,"v":35.8},{"s":"Subject D","t":10.2,"v":36.2},{"s":"Subject D","t":11.4,"v":36.5},{"s":"Subject D","t":12.8,"v":36.8},{"s":"Subject D","t":14.3,"v":36.8},{"s":"Subject D","t":15.5,"v":37.2},{"s":"Subject D","t":16.7,"v":37.7},{"s":"Subject D","t":18.2,"v":38.3},{"s":"Subject D","t":19.2,"v":38.5},{"s":"Subject D","t":20.3,"v":38.7},{"s":"Subject D","t":21.4,"v":38.2},{"s":"Subject D","t":22.6,"v":37.4},{"s":"Subject D","t":23.5,"v":36.5},{"s":"Subject D","t":24.9,"v":35.8},{"s":"Subject D","t":26.2,"v":34.9},{"s":"Subject D","t":27.4,"v":33.9},{"s":"Subject D","t":28.5,"v":34.7},{"s":"Subject D","t":29.7,"v":35.3},{"s":"Subject D","t":31.0,"v":36.1},{"s":"Subject D","t":32.4,"v":36.6},{"s":"Subject D","t":33.8,"v":36.3},{"s":"Subject D","t":36.0,"v":36.3},{"s":"Subject D","t":38.1,"v":36.3},{"s":"Subject D","t":39.5,"v":36.6},{"s":"Subject D","t":40.6,"v":36.1},{"s":"Subject D","t":41.9,"v":35.4},{"s":"Subject D","t":43.1,"v":34.7},{"s":"Subject D","t":44.2,"v":34.3},{"s":"Subject D","t":45.4,"v":33.7},{"s":"Subject D","t":46.7,"v":34.7},{"s":"Subject D","t":47.7,"v":36.1},{"s":"Subject D","t":48.8,"v":35.6},{"s":"Subject D","t":49.9,"v":34.3},{"s":"Subject D","t":50.9,"v":34.7},{"s":"Subject D","t":52.0,"v":34.9},{"s":"Subject D","t":53.4,"v":35.6},{"s":"Subject D","t":54.7,"v":36.1},{"s":"Subject D","t":55.6,"v":35.4},{"s":"Subject D","t":57.0,"v":35.0},{"s":"Subject D","t":58.4,"v":35.2},{"s":"Subject D","t":59.9,"v":35.2},{"s":"Subject D","t":61.3,"v":35.4},{"s":"Subject D","t":62.7,"v":34.6},{"s":"Subject D","t":63.8,"v":35.0},{"s":"Subject D","t":64.8,"v":35.4},{"s":"Subject D","t":65.9,"v":35.0},{"s":"Subject D","t":67.2,"v":34.6},{"s":"Subject D","t":68.0,"v":34.9},{"s":"Subject D","t":69.5,"v":35.2},{"s":"Subject D","t":70.7,"v":35.8},{"s":"Subject D","t":72.0,"v":36.3},{"s":"Subject D","t":73.0,"v":36.8},{"s":"Subject D","t":74.3,"v":37.2},{"s":"Subject D","t":75.2,"v":37.3},{"s":"Subject D","t":76.2,"v":36.7},{"s":"Subject D","t":77.5,"v":36.0},{"s":"Subject D","t":78.7,"v":35.5},{"s":"Subject D","t":79.8,"v":34.6},{"s":"Subject D","t":80.9,"v":35.0},{"s":"Subject D","t":81.9,"v":35.2},{"s":"Subject D","t":83.2,"v":35.8},{"s":"Subject D","t":84.1,"v":36.1},{"s":"Subject D","t":85.1,"v":36.4},{"s":"Subject D","t":86.4,"v":35.8},{"s":"Subject D","t":87.6,"v":34.9},{"s":"Subject D","t":88.7,"v":35.2},{"s":"Subject D","t":90.3,"v":35.2},{"s":"Subject D","t":93.0,"v":35.0},{"s":"Subject D","t":94.8,"v":35.0},{"s":"Subject D","t":96.2,"v":34.9},{"s":"Subject D","t":97.4,"v":35.2},{"s":"Subject D","t":98.7,"v":35.4},{"s":"Subject D","t":100.1,"v":35.9},{"s":"Subject D","t":101.5,"v":36.5},{"s":"Subject D","t":102.8,"v":36.8},{"s":"Subject D","t":104.2,"v":36.8},{"s":"Subject D","t":105.4,"v":36.5},{"s":"Subject D","t":106.7,"v":35.9},{"s":"Subject D","t":107.9,"v":35.5},{"s":"Subject D","t":109.0,"v":35.1},{"s":"Subject D","t":110.1,"v":34.8},{"s":"Subject D","t":111.7,"v":34.6},{"s":"Subject D","t":112.9,"v":34.9},{"s":"Subject D","t":114.4,"v":35.1},{"s":"Subject D","t":115.6,"v":35.2},{"s":"Subject D","t":116.9,"v":34.8},{"s":"Subject D","t":117.9,"v":35.0},{"s":"Subject D","t":118.8,"v":35.2},
      {"s":"Subject E","t":-120.1,"v":38.3},{"s":"Subject E","t":-119.7,"v":38.9},{"s":"Subject E","t":-118.8,"v":40.4},{"s":"Subject E","t":-117.9,"v":41.3},{"s":"Subject E","t":-117.0,"v":40.8},{"s":"Subject E","t":-116.1,"v":40.4},{"s":"Subject E","t":-115.3,"v":39.9},{"s":"Subject E","t":-114.0,"v":39.5},{"s":"Subject E","t":-112.6,"v":39.3},{"s":"Subject E","t":-111.2,"v":39.5},{"s":"Subject E","t":-109.9,"v":40.1},{"s":"Subject E","t":-109.0,"v":41.0},{"s":"Subject E","t":-107.8,"v":41.7},{"s":"Subject E","t":-106.9,"v":41.2},{"s":"Subject E","t":-105.8,"v":40.6},{"s":"Subject E","t":-104.9,"v":40.1},{"s":"Subject E","t":-103.7,"v":40.0},{"s":"Subject E","t":-102.2,"v":39.7},{"s":"Subject E","t":-101.0,"v":39.5},{"s":"Subject E","t":-99.8,"v":39.3},{"s":"Subject E","t":-98.7,"v":39.7},{"s":"Subject E","t":-97.4,"v":40.8},{"s":"Subject E","t":-96.5,"v":40.4},{"s":"Subject E","t":-95.5,"v":39.7},{"s":"Subject E","t":-94.4,"v":39.9},{"s":"Subject E","t":-93.0,"v":40.0},{"s":"Subject E","t":-92.1,"v":40.5},{"s":"Subject E","t":-90.8,"v":40.9},{"s":"Subject E","t":-88.5,"v":40.9},{"s":"Subject E","t":-85.9,"v":40.9},{"s":"Subject E","t":-83.2,"v":40.9},{"s":"Subject E","t":-81.4,"v":41.3},{"s":"Subject E","t":-80.2,"v":41.7},{"s":"Subject E","t":-79.1,"v":41.3},{"s":"Subject E","t":-77.8,"v":40.8},{"s":"Subject E","t":-76.8,"v":40.2},{"s":"Subject E","t":-75.2,"v":40.0},{"s":"Subject E","t":-73.0,"v":40.0},{"s":"Subject E","t":-72.0,"v":40.5},{"s":"Subject E","t":-70.9,"v":41.3},{"s":"Subject E","t":-69.8,"v":41.6},{"s":"Subject E","t":-68.4,"v":41.7},{"s":"Subject E","t":-67.3,"v":42.0},{"s":"Subject E","t":-66.3,"v":42.9},{"s":"Subject E","t":-65.2,"v":43.5},{"s":"Subject E","t":-63.9,"v":44.0},{"s":"Subject E","t":-63.1,"v":44.3},{"s":"Subject E","t":-62.0,"v":44.0},{"s":"Subject E","t":-60.9,"v":43.5},{"s":"Subject E","t":-59.9,"v":42.8},{"s":"Subject E","t":-58.8,"v":42.0},{"s":"Subject E","t":-57.4,"v":41.1},{"s":"Subject E","t":-56.1,"v":41.0},{"s":"Subject E","t":-54.7,"v":40.9},{"s":"Subject E","t":-53.4,"v":40.6},{"s":"Subject E","t":-52.0,"v":40.2},{"s":"Subject E","t":-50.8,"v":39.7},{"s":"Subject E","t":-49.7,"v":40.2},{"s":"Subject E","t":-48.5,"v":41.0},{"s":"Subject E","t":-47.2,"v":41.9},{"s":"Subject E","t":-45.8,"v":43.0},{"s":"Subject E","t":-44.9,"v":43.4},{"s":"Subject E","t":-43.8,"v":43.1},{"s":"Subject E","t":-42.8,"v":42.7},{"s":"Subject E","t":-41.3,"v":42.0},{"s":"Subject E","t":-40.1,"v":41.4},{"s":"Subject E","t":-39.0,"v":41.2},{"s":"Subject E","t":-37.8,"v":41.7},{"s":"Subject E","t":-36.5,"v":42.2},{"s":"Subject E","t":-35.4,"v":42.6},{"s":"Subject E","t":-34.2,"v":42.2},{"s":"Subject E","t":-33.0,"v":41.8},{"s":"Subject E","t":-31.9,"v":41.4},{"s":"Subject E","t":-30.6,"v":41.1},{"s":"Subject E","t":-29.4,"v":40.7},{"s":"Subject E","t":-28.3,"v":40.6},{"s":"Subject E","t":-27.1,"v":41.4},{"s":"Subject E","t":-26.0,"v":41.8},{"s":"Subject E","t":-24.9,"v":42.2},{"s":"Subject E","t":-23.9,"v":40.9},{"s":"Subject E","t":-22.6,"v":40.4},{"s":"Subject E","t":-21.7,"v":40.0},{"s":"Subject E","t":-20.8,"v":39.5},{"s":"Subject E","t":-20.0,"v":39.2},{"s":"Subject E","t":-19.1,"v":38.8},{"s":"Subject E","t":-18.2,"v":40.1},{"s":"Subject E","t":-17.3,"v":41.2},{"s":"Subject E","t":-16.0,"v":41.4},{"s":"Subject E","t":-14.6,"v":41.7},{"s":"Subject E","t":-13.4,"v":42.2},{"s":"Subject E","t":-12.3,"v":41.6},{"s":"Subject E","t":-11.0,"v":41.2},{"s":"Subject E","t":-9.6,"v":41.0},{"s":"Subject E","t":-8.6,"v":41.4},{"s":"Subject E","t":-7.5,"v":41.7},{"s":"Subject E","t":-6.4,"v":41.2},{"s":"Subject E","t":-5.7,"v":40.2},{"s":"Subject E","t":-4.5,"v":39.5},{"s":"Subject E","t":-3.0,"v":39.3},{"s":"Subject E","t":-1.8,"v":39.7},{"s":"Subject E","t":-0.9,"v":39.9},{"s":"Subject E","t":0.0,"v":40.5},{"s":"Subject E","t":1.1,"v":40.0},{"s":"Subject E","t":2.1,"v":39.3},{"s":"Subject E","t":3.2,"v":39.6},{"s":"Subject E","t":4.3,"v":40.1},{"s":"Subject E","t":5.3,"v":39.8},{"s":"Subject E","t":6.8,"v":39.2},{"s":"Subject E","t":7.8,"v":39.0},{"s":"Subject E","t":8.9,"v":39.5},{"s":"Subject E","t":10.0,"v":40.1},{"s":"Subject E","t":11.4,"v":39.7},{"s":"Subject E","t":12.6,"v":39.4},{"s":"Subject E","t":13.9,"v":39.0},{"s":"Subject E","t":15.0,"v":39.7},{"s":"Subject E","t":15.7,"v":40.4},{"s":"Subject E","t":16.7,"v":40.7},{"s":"Subject E","t":17.8,"v":40.6},{"s":"Subject E","t":19.2,"v":40.5},{"s":"Subject E","t":20.3,"v":39.7},{"s":"Subject E","t":21.4,"v":38.9},{"s":"Subject E","t":22.8,"v":38.4},{"s":"Subject E","t":23.9,"v":39.2},{"s":"Subject E","t":25.3,"v":39.4},{"s":"Subject E","t":27.1,"v":39.4},{"s":"Subject E","t":29.0,"v":39.1},{"s":"Subject E","t":31.7,"v":39.1},{"s":"Subject E","t":33.5,"v":39.0},{"s":"Subject E","t":34.9,"v":38.6},{"s":"Subject E","t":35.6,"v":39.4},{"s":"Subject E","t":36.5,"v":40.4},{"s":"Subject E","t":37.4,"v":41.0},{"s":"Subject E","t":38.5,"v":39.5},{"s":"Subject E","t":39.7,"v":38.8},{"s":"Subject E","t":40.6,"v":40.5},{"s":"Subject E","t":41.5,"v":41.1},{"s":"Subject E","t":42.8,"v":41.4},{"s":"Subject E","t":44.2,"v":41.4},{"s":"Subject E","t":45.6,"v":41.4},{"s":"Subject E","t":46.8,"v":41.7},{"s":"Subject E","t":47.9,"v":41.9},{"s":"Subject E","t":48.8,"v":42.3},{"s":"Subject E","t":49.9,"v":43.0},{"s":"Subject E","t":50.9,"v":43.6},{"s":"Subject E","t":51.8,"v":44.2},{"s":"Subject E","t":52.7,"v":43.5},{"s":"Subject E","t":53.6,"v":42.1},{"s":"Subject E","t":54.5,"v":40.8},{"s":"Subject E","t":55.6,"v":41.4},{"s":"Subject E","t":56.6,"v":41.4},{"s":"Subject E","t":58.1,"v":41.3},{"s":"Subject E","t":59.3,"v":41.2},{"s":"Subject E","t":60.6,"v":40.9},{"s":"Subject E","t":61.6,"v":41.7},{"s":"Subject E","t":62.7,"v":41.9},{"s":"Subject E","t":63.8,"v":40.8},{"s":"Subject E","t":64.8,"v":39.9},{"s":"Subject E","t":65.9,"v":39.7},{"s":"Subject E","t":67.3,"v":39.7},{"s":"Subject E","t":68.8,"v":39.5},{"s":"Subject E","t":69.8,"v":39.9},{"s":"Subject E","t":70.9,"v":40.6},{"s":"Subject E","t":72.1,"v":41.1},{"s":"Subject E","t":73.0,"v":41.7},{"s":"Subject E","t":74.1,"v":42.3},{"s":"Subject E","t":75.2,"v":42.8},{"s":"Subject E","t":76.2,"v":42.1},{"s":"Subject E","t":77.1,"v":41.5},{"s":"Subject E","t":78.0,"v":41.2},{"s":"Subject E","t":79.1,"v":41.7},{"s":"Subject E","t":80.2,"v":41.9},{"s":"Subject E","t":81.9,"v":41.9},{"s":"Subject E","t":83.0,"v":41.0},{"s":"Subject E","t":84.1,"v":40.4},{"s":"Subject E","t":85.1,"v":39.7},{"s":"Subject E","t":86.9,"v":39.7},{"s":"Subject E","t":88.0,"v":40.2},{"s":"Subject E","t":89.1,"v":40.6},{"s":"Subject E","t":90.0,"v":41.5},{"s":"Subject E","t":90.8,"v":43.0},{"s":"Subject E","t":92.3,"v":43.5},{"s":"Subject E","t":93.3,"v":43.1},{"s":"Subject E","t":94.4,"v":42.7},{"s":"Subject E","t":95.5,"v":41.5},{"s":"Subject E","t":96.5,"v":39.9},{"s":"Subject E","t":97.6,"v":39.0},{"s":"Subject E","t":99.0,"v":38.8},{"s":"Subject E","t":100.5,"v":38.6},{"s":"Subject E","t":101.7,"v":39.0},{"s":"Subject E","t":102.9,"v":39.5},{"s":"Subject E","t":104.0,"v":40.1},{"s":"Subject E","t":105.1,"v":40.5},{"s":"Subject E","t":106.2,"v":40.5},{"s":"Subject E","t":107.2,"v":40.8},{"s":"Subject E","t":108.3,"v":41.4},{"s":"Subject E","t":109.4,"v":42.2},{"s":"Subject E","t":110.4,"v":41.9},{"s":"Subject E","t":111.5,"v":41.4},{"s":"Subject E","t":112.6,"v":40.8},{"s":"Subject E","t":113.6,"v":39.9},{"s":"Subject E","t":114.5,"v":38.8},{"s":"Subject E","t":115.4,"v":38.1},{"s":"Subject E","t":116.5,"v":38.5},{"s":"Subject E","t":117.6,"v":38.9},{"s":"Subject E","t":118.6,"v":39.7},{"s":"Subject E","t":119.9,"v":40.4},
      {"s":"Subject F","t":-119.9,"v":44.5},{"s":"Subject F","t":-119.0,"v":44.1},{"s":"Subject F","t":-118.2,"v":43.2},{"s":"Subject F","t":-117.3,"v":42.7},{"s":"Subject F","t":-116.1,"v":42.4},{"s":"Subject F","t":-114.8,"v":42.2},{"s":"Subject F","t":-113.4,"v":41.9},{"s":"Subject F","t":-112.0,"v":41.6},{"s":"Subject F","t":-110.8,"v":41.9},{"s":"Subject F","t":-109.4,"v":41.8},{"s":"Subject F","t":-107.8,"v":41.6},{"s":"Subject F","t":-106.8,"v":41.2},{"s":"Subject F","t":-105.9,"v":40.4},{"s":"Subject F","t":-104.6,"v":39.9},{"s":"Subject F","t":-103.4,"v":39.7},{"s":"Subject F","t":-102.4,"v":39.9},{"s":"Subject F","t":-101.1,"v":40.0},{"s":"Subject F","t":-99.9,"v":40.5},{"s":"Subject F","t":-98.9,"v":41.0},{"s":"Subject F","t":-97.6,"v":41.4},{"s":"Subject F","t":-96.4,"v":41.7},{"s":"Subject F","t":-95.4,"v":41.7},{"s":"Subject F","t":-94.5,"v":41.1},{"s":"Subject F","t":-93.6,"v":40.5},{"s":"Subject F","t":-92.4,"v":39.7},{"s":"Subject F","t":-91.3,"v":39.5},{"s":"Subject F","t":-90.3,"v":39.4},{"s":"Subject F","t":-88.9,"v":39.2},{"s":"Subject F","t":-87.8,"v":38.8},{"s":"Subject F","t":-87.1,"v":39.3},{"s":"Subject F","t":-86.1,"v":40.1},{"s":"Subject F","t":-85.0,"v":41.1},{"s":"Subject F","t":-83.9,"v":42.0},{"s":"Subject F","t":-82.9,"v":42.7},{"s":"Subject F","t":-82.2,"v":43.3},{"s":"Subject F","t":-81.3,"v":42.9},{"s":"Subject F","t":-80.4,"v":42.4},{"s":"Subject F","t":-79.4,"v":41.5},{"s":"Subject F","t":-78.3,"v":40.6},{"s":"Subject F","t":-77.3,"v":40.4},{"s":"Subject F","t":-76.2,"v":40.8},{"s":"Subject F","t":-74.8,"v":41.1},{"s":"Subject F","t":-73.8,"v":41.4},{"s":"Subject F","t":-72.7,"v":41.9},{"s":"Subject F","t":-71.8,"v":42.7},{"s":"Subject F","t":-71.0,"v":43.3},{"s":"Subject F","t":-69.9,"v":43.9},{"s":"Subject F","t":-68.9,"v":43.7},{"s":"Subject F","t":-67.8,"v":43.2},{"s":"Subject F","t":-66.8,"v":43.6},{"s":"Subject F","t":-65.7,"v":43.9},{"s":"Subject F","t":-64.7,"v":44.1},{"s":"Subject F","t":-63.2,"v":44.2},{"s":"Subject F","t":-61.8,"v":44.3},{"s":"Subject F","t":-60.8,"v":44.4},{"s":"Subject F","t":-59.4,"v":44.7},{"s":"Subject F","t":-58.3,"v":44.4},{"s":"Subject F","t":-57.3,"v":43.9},{"s":"Subject F","t":-56.2,"v":43.3},{"s":"Subject F","t":-55.2,"v":43.0},{"s":"Subject F","t":-54.1,"v":42.8},{"s":"Subject F","t":-52.9,"v":42.8},{"s":"Subject F","t":-51.7,"v":42.8},{"s":"Subject F","t":-50.3,"v":42.9},{"s":"Subject F","t":-49.2,"v":43.1},{"s":"Subject F","t":-48.2,"v":43.2},{"s":"Subject F","t":-47.1,"v":43.1},{"s":"Subject F","t":-45.9,"v":43.1},{"s":"Subject F","t":-44.6,"v":42.9},{"s":"Subject F","t":-43.6,"v":42.5},{"s":"Subject F","t":-42.5,"v":42.2},{"s":"Subject F","t":-41.5,"v":42.1},{"s":"Subject F","t":-40.4,"v":42.7},{"s":"Subject F","t":-39.4,"v":43.2},{"s":"Subject F","t":-38.3,"v":43.9},{"s":"Subject F","t":-37.3,"v":44.2},{"s":"Subject F","t":-36.2,"v":44.5},{"s":"Subject F","t":-35.2,"v":44.2},{"s":"Subject F","t":-34.1,"v":43.8},{"s":"Subject F","t":-33.1,"v":43.3},{"s":"Subject F","t":-32.0,"v":42.8},{"s":"Subject F","t":-31.0,"v":42.3},{"s":"Subject F","t":-29.9,"v":41.9},{"s":"Subject F","t":-28.9,"v":41.6},{"s":"Subject F","t":-27.8,"v":41.5},{"s":"Subject F","t":-26.8,"v":42.1},{"s":"Subject F","t":-25.7,"v":42.5},{"s":"Subject F","t":-24.6,"v":43.0},{"s":"Subject F","t":-23.6,"v":43.4},{"s":"Subject F","t":-22.5,"v":43.9},{"s":"Subject F","t":-21.5,"v":44.0},{"s":"Subject F","t":-20.4,"v":44.0},{"s":"Subject F","t":-19.4,"v":44.2},{"s":"Subject F","t":-18.3,"v":44.6},{"s":"Subject F","t":-17.3,"v":44.9},{"s":"Subject F","t":-16.2,"v":45.1},{"s":"Subject F","t":-15.2,"v":45.1},{"s":"Subject F","t":-14.5,"v":44.0},{"s":"Subject F","t":-13.4,"v":42.3},{"s":"Subject F","t":-12.5,"v":41.4},{"s":"Subject F","t":-11.3,"v":42.1},{"s":"Subject F","t":-10.3,"v":42.5},{"s":"Subject F","t":-9.2,"v":42.8},{"s":"Subject F","t":-8.2,"v":43.1},{"s":"Subject F","t":-7.1,"v":43.4},{"s":"Subject F","t":-6.4,"v":43.8},{"s":"Subject F","t":-5.5,"v":44.2},{"s":"Subject F","t":-4.6,"v":44.9},{"s":"Subject F","t":-3.8,"v":44.0},{"s":"Subject F","t":-2.9,"v":43.0},{"s":"Subject F","t":-2.0,"v":42.4},{"s":"Subject F","t":-1.5,"v":41.9},{"s":"Subject F","t":-0.8,"v":41.6},{"s":"Subject F","t":-0.1,"v":42.4},{"s":"Subject F","t":0.6,"v":44.2},{"s":"Subject F","t":1.7,"v":44.5},{"s":"Subject F","t":2.7,"v":43.9},{"s":"Subject F","t":3.8,"v":43.0},{"s":"Subject F","t":4.8,"v":42.3},{"s":"Subject F","t":5.9,"v":41.7},{"s":"Subject F","t":6.9,"v":41.4},{"s":"Subject F","t":8.0,"v":41.0},{"s":"Subject F","t":9.0,"v":40.9},{"s":"Subject F","t":10.4,"v":40.9},{"s":"Subject F","t":11.8,"v":40.6},{"s":"Subject F","t":12.9,"v":41.4},{"s":"Subject F","t":13.9,"v":42.1},{"s":"Subject F","t":15.0,"v":43.1},{"s":"Subject F","t":16.1,"v":42.6},{"s":"Subject F","t":17.1,"v":42.3},{"s":"Subject F","t":18.2,"v":42.2},{"s":"Subject F","t":19.2,"v":41.9},{"s":"Subject F","t":20.3,"v":41.8},{"s":"Subject F","t":21.3,"v":42.0},{"s":"Subject F","t":22.4,"v":42.3},{"s":"Subject F","t":23.4,"v":42.9},{"s":"Subject F","t":24.5,"v":43.6},{"s":"Subject F","t":25.5,"v":44.2},{"s":"Subject F","t":26.6,"v":44.8},{"s":"Subject F","t":27.6,"v":45.1},{"s":"Subject F","t":28.7,"v":45.6},{"s":"Subject F","t":29.7,"v":45.9},{"s":"Subject F","t":30.8,"v":44.8},{"s":"Subject F","t":31.8,"v":43.5},{"s":"Subject F","t":33.1,"v":42.4},{"s":"Subject F","t":34.3,"v":41.5},{"s":"Subject F","t":35.4,"v":40.8},{"s":"Subject F","t":36.6,"v":42.6},{"s":"Subject F","t":37.8,"v":43.6},{"s":"Subject F","t":38.9,"v":44.2},{"s":"Subject F","t":39.9,"v":44.2},{"s":"Subject F","t":41.0,"v":43.9},{"s":"Subject F","t":42.0,"v":43.5},{"s":"Subject F","t":43.1,"v":43.8},{"s":"Subject F","t":44.1,"v":44.0},{"s":"Subject F","t":45.2,"v":43.8},{"s":"Subject F","t":46.2,"v":43.6},{"s":"Subject F","t":47.3,"v":43.2},{"s":"Subject F","t":48.3,"v":43.5},{"s":"Subject F","t":49.4,"v":44.0},{"s":"Subject F","t":50.4,"v":43.8},{"s":"Subject F","t":51.5,"v":43.3},{"s":"Subject F","t":52.5,"v":43.1},{"s":"Subject F","t":53.6,"v":42.8},{"s":"Subject F","t":54.6,"v":42.3},{"s":"Subject F","t":55.7,"v":43.7},{"s":"Subject F","t":56.8,"v":44.4},{"s":"Subject F","t":57.8,"v":44.7},{"s":"Subject F","t":58.9,"v":44.6},{"s":"Subject F","t":59.9,"v":44.4},{"s":"Subject F","t":61.0,"v":44.2},{"s":"Subject F","t":62.0,"v":43.8},{"s":"Subject F","t":63.1,"v":43.0},{"s":"Subject F","t":64.1,"v":42.5},{"s":"Subject F","t":65.2,"v":42.1},{"s":"Subject F","t":66.2,"v":43.0},{"s":"Subject F","t":67.3,"v":43.5},{"s":"Subject F","t":68.3,"v":43.9},{"s":"Subject F","t":69.4,"v":44.0},{"s":"Subject F","t":70.4,"v":44.1},{"s":"Subject F","t":71.8,"v":44.1},{"s":"Subject F","t":73.2,"v":44.3},{"s":"Subject F","t":74.3,"v":44.4},{"s":"Subject F","t":75.4,"v":44.6},{"s":"Subject F","t":76.4,"v":44.5},{"s":"Subject F","t":77.5,"v":44.4},{"s":"Subject F","t":78.5,"v":44.3},{"s":"Subject F","t":79.6,"v":44.0},{"s":"Subject F","t":80.6,"v":44.6},{"s":"Subject F","t":81.7,"v":45.1},{"s":"Subject F","t":82.7,"v":45.5},{"s":"Subject F","t":83.8,"v":45.8},{"s":"Subject F","t":84.8,"v":45.4},{"s":"Subject F","t":85.9,"v":43.8},{"s":"Subject F","t":86.9,"v":42.6},{"s":"Subject F","t":88.0,"v":41.9},{"s":"Subject F","t":89.0,"v":41.6},{"s":"Subject F","t":90.1,"v":41.6},{"s":"Subject F","t":91.1,"v":42.7},{"s":"Subject F","t":92.2,"v":43.4},{"s":"Subject F","t":93.2,"v":43.5},{"s":"Subject F","t":94.3,"v":43.4},{"s":"Subject F","t":95.4,"v":43.2},{"s":"Subject F","t":96.4,"v":43.0},{"s":"Subject F","t":97.5,"v":42.9},{"s":"Subject F","t":98.5,"v":43.1},{"s":"Subject F","t":99.6,"v":43.2},{"s":"Subject F","t":100.6,"v":43.2},{"s":"Subject F","t":101.7,"v":42.9},{"s":"Subject F","t":102.7,"v":42.1},{"s":"Subject F","t":103.8,"v":41.7},{"s":"Subject F","t":104.8,"v":41.3},{"s":"Subject F","t":105.9,"v":41.0},{"s":"Subject F","t":106.9,"v":40.7},{"s":"Subject F","t":108.0,"v":41.0},{"s":"Subject F","t":109.0,"v":41.7},{"s":"Subject F","t":110.1,"v":42.9},{"s":"Subject F","t":111.1,"v":44.7},{"s":"Subject F","t":112.2,"v":45.6},{"s":"Subject F","t":113.2,"v":45.8},{"s":"Subject F","t":114.3,"v":45.9},{"s":"Subject F","t":115.4,"v":45.7},{"s":"Subject F","t":116.4,"v":44.9},{"s":"Subject F","t":117.5,"v":44.0},{"s":"Subject F","t":118.2,"v":43.4},{"s":"Subject F","t":119.2,"v":44.1},{"s":"Subject F","t":120.3,"v":44.4}
    ]
  },
  "facet": {
    "field": "s",
    "type": "nominal",
    "title": "Seconds relative to warning",
    "header": {
      "labels": false,
      "labelExpr": "''",
      "labelFontSize": 1,
      "labelPadding": 0,
      "titleOrient": "bottom",
      "titleFont": "Liberation Sans",
      "titleFontSize": 76,
      "titleFontWeight": "normal",
      "titleColor": "black",
      "titlePadding": 16
    }
  },
  "columns": 3,
  "spacing": {"row": 35, "column": 34},
  "spec": {
    "width": 991,
    "height": 1155,
    "layer": [
      {
        "transform": [{"aggregate": [{"op": "count", "as": "n"}], "groupby": ["s"]}],
        "mark": {"type": "rect", "color": "#d9d9d9"},
        "encoding": {
          "x": {"datum": -132, "type": "quantitative"},
          "x2": {"datum": 132},
          "y": {"datum": 75.44, "type": "quantitative"},
          "y2": {"datum": 81.72}
        }
      },
      {
        "mark": {"type": "line", "color": "black", "strokeWidth": 2.9},
        "encoding": {
          "x": {
            "field": "t",
            "type": "quantitative",
            "scale": {"domain": [-132, 132], "nice": false, "zero": false},
            "axis": {"values": [-100, -50, 0, 50, 100], "title": null}
          },
          "y": {
            "field": "v",
            "type": "quantitative",
            "scale": {"domain": [19.2, 81.72], "nice": false, "zero": false},
            "axis": {"values": [20, 30, 40, 50, 60, 70], "title": null, "grid": true}
          }
        }
      },
      {
        "transform": [{"aggregate": [{"op": "count", "as": "n"}], "groupby": ["s"]}],
        "mark": {"type": "rule", "color": "black", "strokeWidth": 3.5, "strokeDash": [16, 18]},
        "encoding": {
          "x": {"datum": 0, "type": "quantitative"},
          "y": {"datum": 19.2, "type": "quantitative"},
          "y2": {"datum": 75.44}
        }
      },
      {
        "transform": [{"aggregate": [{"op": "count", "as": "n"}], "groupby": ["s"]}],
        "mark": {"type": "text", "font": "Liberation Sans", "fontSize": 60, "color": "#1a1a1a", "baseline": "alphabetic", "align": "center"},
        "encoding": {
          "x": {"datum": 0, "type": "quantitative"},
          "y": {"datum": 77.08, "type": "quantitative"},
          "text": {"field": "s"}
        }
      }
    ]
  },
  "config": {
    "view": {"stroke": null},
    "headerFacet": {"labels": false},
    "axis": {
      "labelFont": "Liberation Sans",
      "labelFontSize": 60,
      "labelColor": "#4d4d4d",
      "tickColor": "#333333",
      "tickWidth": 3,
      "tickSize": 17,
      "domain": false,
      "grid": false,
      "titleFont": "Liberation Sans"
    },
    "axisY": {"grid": true, "gridColor": "#d9d9d9", "gridWidth": 3.5, "labelPadding": 21},
    "axisX": {"labelPadding": 14}
  }
}
